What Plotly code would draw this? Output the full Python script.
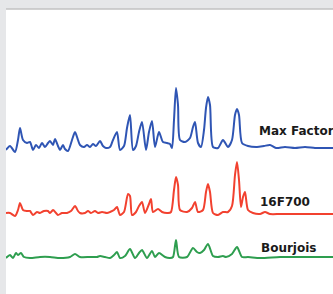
import plotly.graph_objects as go

# Raman-like spectra (x: shift, arbitrary units; y: stacked intensity)
max_factor_x = [6, 10, 15, 18, 20, 23, 27, 30, 33, 36, 39, 42, 45, 48, 50, 53, 55, 58, 60, 63, 65, 68,
                72, 75, 78, 80, 84, 87, 90, 93, 96, 100, 103, 106, 110, 113, 117, 120, 124, 127, 130,
                133, 136, 139, 142, 146, 149, 152, 155, 159, 163, 167, 170, 172, 174, 176, 178, 180,
                185, 190, 193, 195, 198, 201, 204, 206, 208, 210, 213, 218, 223, 228, 232, 235, 237,
                239, 242, 248, 257, 264, 270, 276, 285, 295, 305, 315, 325, 333]
max_factor_y = [144, 148, 142, 154, 166, 154, 151, 152, 144, 149, 146, 151, 147, 151, 153, 149, 155, 148,
                144, 149, 145, 143, 154, 162, 154, 149, 147, 149, 147, 150, 148, 153, 148, 146, 147, 154,
                162, 144, 148, 166, 179, 144, 148, 162, 172, 144, 162, 173, 147, 162, 152, 151, 150, 146,
                174, 206, 189, 154, 152, 156, 167, 172, 151, 147, 164, 186, 197, 189, 147, 146, 154, 147,
                154, 179, 185, 179, 151, 148, 147, 148, 149, 146, 147, 146, 147, 146, 146, 146]

f700_x = [6, 10, 15, 18, 20, 23, 27, 30, 33, 37, 40, 44, 48, 50, 53, 56, 58, 62, 67, 71, 75, 78, 80,
          85, 88, 91, 95, 98, 102, 107, 110, 114, 117, 120, 124, 128, 130, 132, 136, 139, 142, 145, 149,
          151, 153, 158, 162, 168, 171, 174, 176, 178, 180, 187, 192, 195, 198, 203, 206, 208, 210, 213,
          218, 223, 228, 232, 235, 237, 239, 241, 243, 245, 248, 253, 260, 265, 270, 280, 295, 310, 333]
f700_y = [81, 81, 78, 84, 91, 84, 83, 83, 79, 82, 81, 83, 83, 81, 84, 81, 79, 81, 81, 83, 88, 83, 81,
          81, 83, 81, 83, 81, 82, 81, 82, 84, 87, 79, 82, 100, 98, 79, 82, 88, 92, 81, 90,
          95, 82, 85, 82, 81, 82, 104, 117, 109, 84, 82, 86, 92, 82, 84, 102, 110, 102, 81,
          79, 82, 82, 88, 119, 132, 114, 87, 97, 102, 84, 81, 80, 82, 80, 80, 80, 80, 80]

bourjois_x = [6, 10, 13, 16, 18, 21, 24, 30, 40, 50, 60, 70, 75, 80, 90, 97, 100, 105, 110, 114, 117,
              120, 125, 130, 135, 139, 142, 147, 152, 155, 159, 165, 170, 173, 176, 179, 187, 193, 197,
              200, 204, 208, 213, 218, 223, 226, 232, 237, 242, 248, 260, 280, 300, 333]
bourjois_y = [36, 39, 36, 41, 39, 41, 37, 36, 37, 37, 36, 37, 40, 37, 37, 37, 38, 37, 36, 39, 42,
              36, 38, 45, 36, 41, 44, 36, 43, 37, 41, 37, 36, 37, 54, 37, 37, 46, 42,
              41, 44, 50, 38, 37, 38, 37, 40, 47, 37, 37, 36, 37, 37, 37]

names = ["Max Factor", "16F700", "Bourjois"]
colors = ["#2f55b4", "#f2412f", "#2e9e4f"]
label_x = [257, 258, 259]
label_y = [163, 92, 46]

fig = go.Figure()
for (xs, ys), name, col in zip([(max_factor_x, max_factor_y), (f700_x, f700_y), (bourjois_x, bourjois_y)],
                               names, colors):
    fig.add_trace(go.Scatter(x=xs, y=ys, mode="lines", name=name,
                             line=dict(color=col, width=2, shape="spline", smoothing=0.7),
                             hoverinfo="skip", showlegend=False))

for name, lx, ly in zip(names, label_x, label_y):
    fig.add_annotation(x=lx, y=ly, text="<b>" + name + "</b>", showarrow=False,
                       xanchor="left", yanchor="middle",
                       font=dict(family="DejaVu Sans", size=12, color="#1a1a1a"))

fig.add_shape(type="line", xref="paper", yref="paper", x0=0, x1=1, y0=1, y1=1,
              line=dict(color="#c2c2c2", width=1.5))

fig.update_layout(
    width=333, height=294,
    margin=dict(l=6, r=0, t=9, b=0),
    paper_bgcolor="#e6e7e9", plot_bgcolor="white",
    xaxis=dict(range=[6, 333], visible=False, fixedrange=True),
    yaxis=dict(range=[0, 285], visible=False, fixedrange=True),
)

fig.write_html("out.html", config={"displayModeBar": False},
               post_script="document.body.style.margin='0';document.body.style.overflow='hidden';")
